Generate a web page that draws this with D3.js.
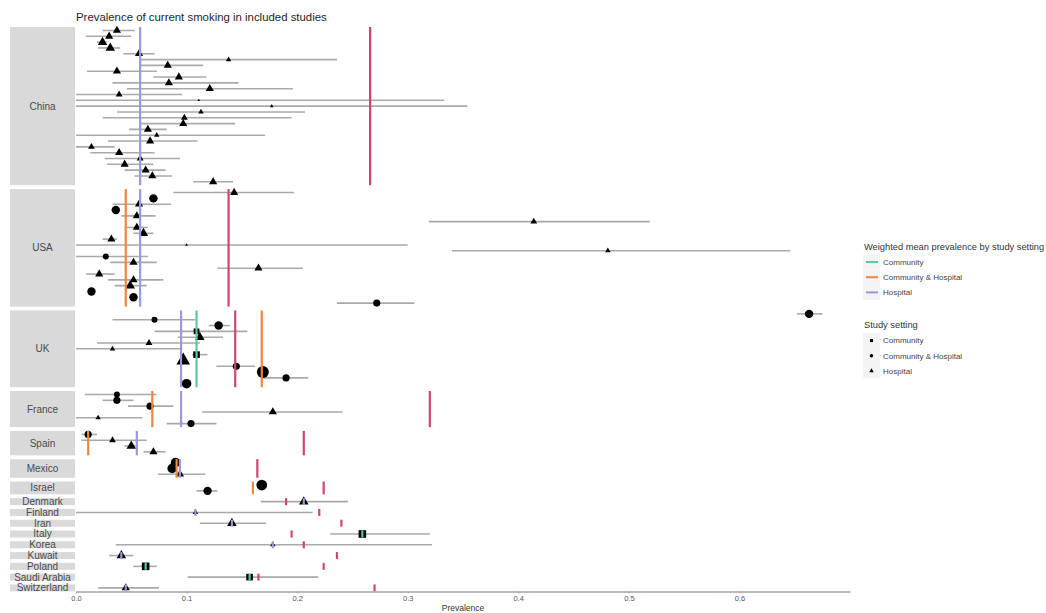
<!DOCTYPE html>
<html>
<head>
<meta charset="utf-8">
<script src="https://cdn.jsdelivr.net/npm/d3@7"></script>
<style>
  body { margin: 0; background: #fff; }
  svg { display: block; }
  text { font-family: "Liberation Sans", Arial, sans-serif; }
</style>
</head>
<body>
<svg id="chart" width="1046" height="613"></svg>
<script>
// ---- data ---------------------------------------------------------------
const countries = ["China", "USA", "UK", "France", "Spain", "Mexico", "Israel",
  "Denmark", "Finland", "Iran", "Italy", "Korea", "Kuwait", "Poland",
  "Saudi Arabia", "Switzerland"];
const studiesPerCountry = [27, 20, 13, 6, 4, 3, 2, 1, 1, 1, 1, 1, 1, 1, 1, 1];

// one entry per study, in country order
const estimate = [
  0.037, 0.030, 0.024, 0.031, 0.057, 0.138, 0.083, 0.037, 0.093, 0.084, 0.121, 0.039, 0.111, 0.177,
  0.113, 0.098, 0.097, 0.065, 0.073, 0.067, 0.014, 0.039, 0.058, 0.044, 0.063, 0.069, 0.124,
  0.143, 0.070, 0.057, 0.036, 0.055, 0.414, 0.055, 0.061, 0.032, 0.100, 0.481, 0.027, 0.052, 0.165,
  0.021, 0.052, 0.049, 0.014, 0.052, 0.272,
  0.663, 0.071, 0.129, 0.109, 0.112, 0.066, 0.033, 0.109, 0.097, 0.145, 0.169, 0.190, 0.100,
  0.037, 0.037, 0.067, 0.178, 0.020, 0.104,
  0.011, 0.033, 0.050, 0.070,
  0.090, 0.087, 0.094,
  0.168, 0.119,
  0.206, 0.108, 0.141, 0.259, 0.178, 0.041, 0.063, 0.157, 0.045];
const lower = [
  0.024, 0.009, 0.019, 0.020, 0.043, 0.057, 0.058, 0.010, 0.070, 0.033, 0.046, 0.000, 0.000, 0.000,
  0.037, 0.024, 0.058, 0.048, 0.000, 0.029, 0.000, 0.013, 0.026, 0.028, 0.044, 0.053, 0.106,
  0.088, 0.066, 0.033, 0.032, 0.041, 0.319, 0.044, 0.052, 0.024, 0.000, 0.340, 0.000, 0.031, 0.128,
  0.009, 0.029, 0.035, 0.011, 0.048, 0.236,
  0.652, 0.033, 0.120, 0.071, 0.092, 0.019, 0.000, 0.105, 0.094, 0.127, 0.166, 0.169, 0.097,
  0.008, 0.024, 0.047, 0.114, 0.000, 0.082,
  0.005, 0.005, 0.044, 0.061,
  0.086, 0.083, 0.074,
  0.164, 0.109,
  0.167, 0.000, 0.112, 0.230, 0.036, 0.030, 0.052, 0.101, 0.020];
const upper = [
  0.053, 0.050, 0.028, 0.040, 0.071, 0.236, 0.115, 0.073, 0.118, 0.147, 0.196, 0.096, 0.333, 0.354,
  0.207, 0.195, 0.144, 0.082, 0.171, 0.110, 0.035, 0.071, 0.094, 0.070, 0.081, 0.087, 0.142,
  0.197, 0.074, 0.086, 0.040, 0.072, 0.519, 0.065, 0.070, 0.037, 0.300, 0.646, 0.065, 0.073, 0.205,
  0.035, 0.079, 0.064, 0.017, 0.056, 0.306,
  0.675, 0.108, 0.139, 0.155, 0.133, 0.112, 0.096, 0.119, 0.100, 0.162, 0.172, 0.210, 0.103,
  0.073, 0.052, 0.088, 0.241, 0.060, 0.127,
  0.019, 0.064, 0.054, 0.081,
  0.094, 0.091, 0.117,
  0.172, 0.128,
  0.246, 0.214, 0.172, 0.320, 0.322, 0.052, 0.073, 0.219, 0.075];
// C = Community, CH = Community & Hospital, H = Hospital
const setting = [
  "H","H","H","H","H","H","H","H","H","H","H","H","H","H",
  "H","H","H","H","H","H","H","H","H","H","H","H","H",
  "H","CH","H","CH","H","H","H","H","H","H","H","CH","H","H",
  "H","H","H","CH","CH","CH",
  "CH","CH","CH","C","H","H","H","C","H","CH","CH","CH","CH",
  "CH","CH","CH","H","H","CH",
  "CH","H","H","H",
  "CH","CH","H",
  "CH","CH",
  "H","H","H","C","H","H","C","C","H"];
// relative study weight (drives marker size)
const weight = [
  3, 3, 3.5, 3.5, 3, 2, 3, 3, 3, 3, 3, 2.5, 1, 1.3,
  2, 2.5, 3, 3, 2, 3, 2.5, 3, 2.5, 3, 3, 3, 3,
  3, 3.5, 3, 3.5, 3, 2.5, 3, 3.5, 3, 1, 2, 2.5, 3, 3,
  3, 3, 3.5, 3.5, 3.5, 3,
  3.5, 2.5, 3.5, 3, 3.5, 2.5, 2, 3.5, 5, 3, 5, 3, 4,
  2.5, 3, 3, 3, 2, 3,
  3, 2.5, 3.5, 3,
  4, 4, 3,
  4.5, 3.5,
  3.5, 2, 3.5, 4, 2, 3.5, 4, 3.5, 3];

// weighted mean prevalence by study setting, per country
const meanCountry = ["China", "USA", "USA", "UK", "UK", "UK", "France", "France", "Spain", "Spain",
  "Mexico", "Mexico", "Israel", "Denmark", "Finland", "Iran", "Italy", "Korea", "Kuwait", "Poland",
  "Saudi Arabia", "Switzerland"];
const meanSetting = ["H", "CH", "H", "C", "CH", "H", "CH", "H", "CH", "H",
  "CH", "H", "CH", "H", "H", "H", "C", "H", "H", "C", "C", "H"];
const meanValue = [0.058, 0.045, 0.058, 0.109, 0.168, 0.095, 0.069, 0.095, 0.011, 0.055,
  0.091, 0.094, 0.160, 0.206, 0.108, 0.141, 0.259, 0.178, 0.041, 0.063, 0.157, 0.045];

// general-population smoking prevalence, per country (same order as countries)
const nationalPrevalence = [0.266, 0.138, 0.144, 0.320, 0.206, 0.164, 0.224, 0.190, 0.220,
  0.240, 0.195, 0.206, 0.236, 0.224, 0.165, 0.270];

const settingCodes = ["C", "CH", "H"];
const settingLabels = ["Community", "Community & Hospital", "Hospital"];
const xTicks = [0, 0.1, 0.2, 0.3, 0.4, 0.5, 0.6];

// ---- layout --------------------------------------------------------------
const svg = d3.select("#chart");
const plot = { left: 76, right: 850, top: 27, bottom: 591.4 };
const strip = { left: 10, right: 75 };
const panelGap = 3.8;

const x = d3.scaleLinear().domain([0, 0.7]).range([plot.left, plot.right]);

const settingColor = d3.scaleOrdinal().domain(settingCodes)
  .range(["#5cc79c", "#ef873a", "#9d98d8"]);
const settingShape = d3.scaleOrdinal().domain(settingCodes)
  .range([d3.symbolSquare, d3.symbolCircle, d3.symbolTriangle]);
const areaFactor = { C: 3.6, CH: 4.5, H: 3.2 };

// panel heights follow the number of studies (free vertical space per facet)
const units = studiesPerCountry.map(n => n + 0.2);
const step = (plot.bottom - plot.top - panelGap * (countries.length - 1)) / d3.sum(units);
let cursor = plot.top;
const panels = countries.map((c, i) => {
  const h = units[i] * step;
  const y = d3.scalePoint().domain(d3.range(studiesPerCountry[i]))
    .range([cursor, cursor + h]).padding(0.6);
  const p = { country: c, top: cursor, height: h, y, national: nationalPrevalence[i] };
  cursor += h + panelGap;
  return p;
});
const panelOf = new Map(panels.map(p => [p.country, p]));

const studies = [];
let k = 0;
countries.forEach((c, i) => {
  for (let j = 0; j < studiesPerCountry[i]; j++, k++) {
    studies.push({
      country: c, est: estimate[k], lo: lower[k], hi: upper[k],
      setting: setting[k], w: weight[k], y: panels[i].y(j)
    });
  }
});
const means = meanCountry.map((c, i) => ({ country: c, setting: meanSetting[i], value: meanValue[i] }));

// ---- title -------------------------------------------------------------
svg.append("text")
  .attr("x", plot.left).attr("y", 20.5)
  .attr("font-size", 11.4).attr("fill", "#1e1e1e")
  .text("Prevalence of current smoking in included studies");

// ---- facet strips -------------------------------------------------------
const strips = svg.append("g");
strips.selectAll("rect").data(panels).join("rect")
  .attr("x", strip.left).attr("y", d => d.top)
  .attr("width", strip.right - strip.left).attr("height", d => d.height)
  .attr("fill", "#d9d9d9");
strips.selectAll("text").data(panels).join("text")
  .attr("x", (strip.left + strip.right) / 2).attr("y", d => d.top + d.height / 2)
  .attr("dy", "0.35em").attr("text-anchor", "middle")
  .attr("font-size", 10).attr("fill", "#4a4a4a")
  .text(d => d.country);

// ---- confidence intervals -----------------------------------------------
svg.append("g").selectAll("line").data(studies).join("line")
  .attr("x1", d => x(d.lo)).attr("x2", d => x(d.hi))
  .attr("y1", d => d.y).attr("y2", d => d.y)
  .attr("stroke", "#a9a9a9").attr("stroke-width", 1.6);

// ---- study estimates ----------------------------------------------------
svg.append("g").selectAll("path").data(studies).join("path")
  .attr("transform", d => `translate(${x(d.est)},${d.y})`)
  .attr("d", d => d3.symbol().type(settingShape(d.setting))
    .size(areaFactor[d.setting] * d.w * d.w)())
  .attr("fill", "#000");

// ---- weighted means per setting -----------------------------------------
svg.append("g").selectAll("line").data(means).join("line")
  .attr("x1", d => x(d.value)).attr("x2", d => x(d.value))
  .attr("y1", d => panelOf.get(d.country).top)
  .attr("y2", d => panelOf.get(d.country).top + panelOf.get(d.country).height)
  .attr("stroke", d => settingColor(d.setting)).attr("stroke-width", 2.2);

// ---- national prevalence --------------------------------------------------
svg.append("g").selectAll("line").data(panels).join("line")
  .attr("x1", d => x(d.national)).attr("x2", d => x(d.national))
  .attr("y1", d => d.top).attr("y2", d => d.top + d.height)
  .attr("stroke", "#cf456f").attr("stroke-width", 2.2);

// ---- x axis -------------------------------------------------------------
const axis = svg.append("g")
  .attr("transform", `translate(0,${plot.bottom})`)
  .call(d3.axisBottom(x).tickValues(xTicks).tickFormat(d3.format(".1f"))
    .tickSize(2).tickSizeOuter(0));
axis.select(".domain").attr("stroke", "#a3a3a3").attr("stroke-width", 1.5);
axis.selectAll(".tick line").attr("stroke", "#a3a3a3");
axis.selectAll(".tick text").attr("font-size", 7.5).attr("fill", "#555")
  .attr("font-family", "Liberation Sans, Arial, sans-serif").attr("dy", "0.6em");
svg.append("text")
  .attr("x", (plot.left + plot.right) / 2).attr("y", 610.5)
  .attr("text-anchor", "middle").attr("font-size", 8.5).attr("fill", "#333")
  .text("Prevalence");

// ---- legends ------------------------------------------------------------
const legend = svg.append("g").attr("transform", "translate(864,0)");
legend.append("text").attr("x", 0).attr("y", 250)
  .attr("font-size", 9.3).attr("fill", "#333")
  .text("Weighted mean prevalence by study setting");
const lineKeys = legend.selectAll("g.lk").data(settingCodes).join("g")
  .attr("class", "lk")
  .attr("transform", (d, i) => `translate(0,${262 + i * 15.2})`);
lineKeys.append("rect").attr("x", -1).attr("y", -7.5).attr("width", 17).attr("height", 15)
  .attr("fill", "#f4f4f4");
lineKeys.append("line").attr("x1", 2).attr("x2", 14).attr("y1", 0).attr("y2", 0)
  .attr("stroke", d => settingColor(d)).attr("stroke-width", 2);
lineKeys.append("text").attr("x", 19).attr("y", 0).attr("dy", "0.35em")
  .attr("font-size", 8).attr("fill", "#444")
  .text((d, i) => settingLabels[i]);

legend.append("text").attr("x", 0).attr("y", 328)
  .attr("font-size", 9.3).attr("fill", "#333")
  .text("Study setting");
const shapeKeys = legend.selectAll("g.sk").data(settingCodes).join("g")
  .attr("class", "sk")
  .attr("transform", (d, i) => `translate(0,${340.5 + i * 15.2})`);
shapeKeys.append("rect").attr("x", -1).attr("y", -7.5).attr("width", 17).attr("height", 15)
  .attr("fill", "#f4f4f4");
shapeKeys.append("path").attr("transform", "translate(7.5,0)")
  .attr("d", d => d3.symbol().type(settingShape(d)).size(9)())
  .attr("fill", "#000");
shapeKeys.append("text").attr("x", 19).attr("y", 0).attr("dy", "0.35em")
  .attr("font-size", 8).attr("fill", "#444")
  .text((d, i) => settingLabels[i]);
</script>
</body>
</html>
